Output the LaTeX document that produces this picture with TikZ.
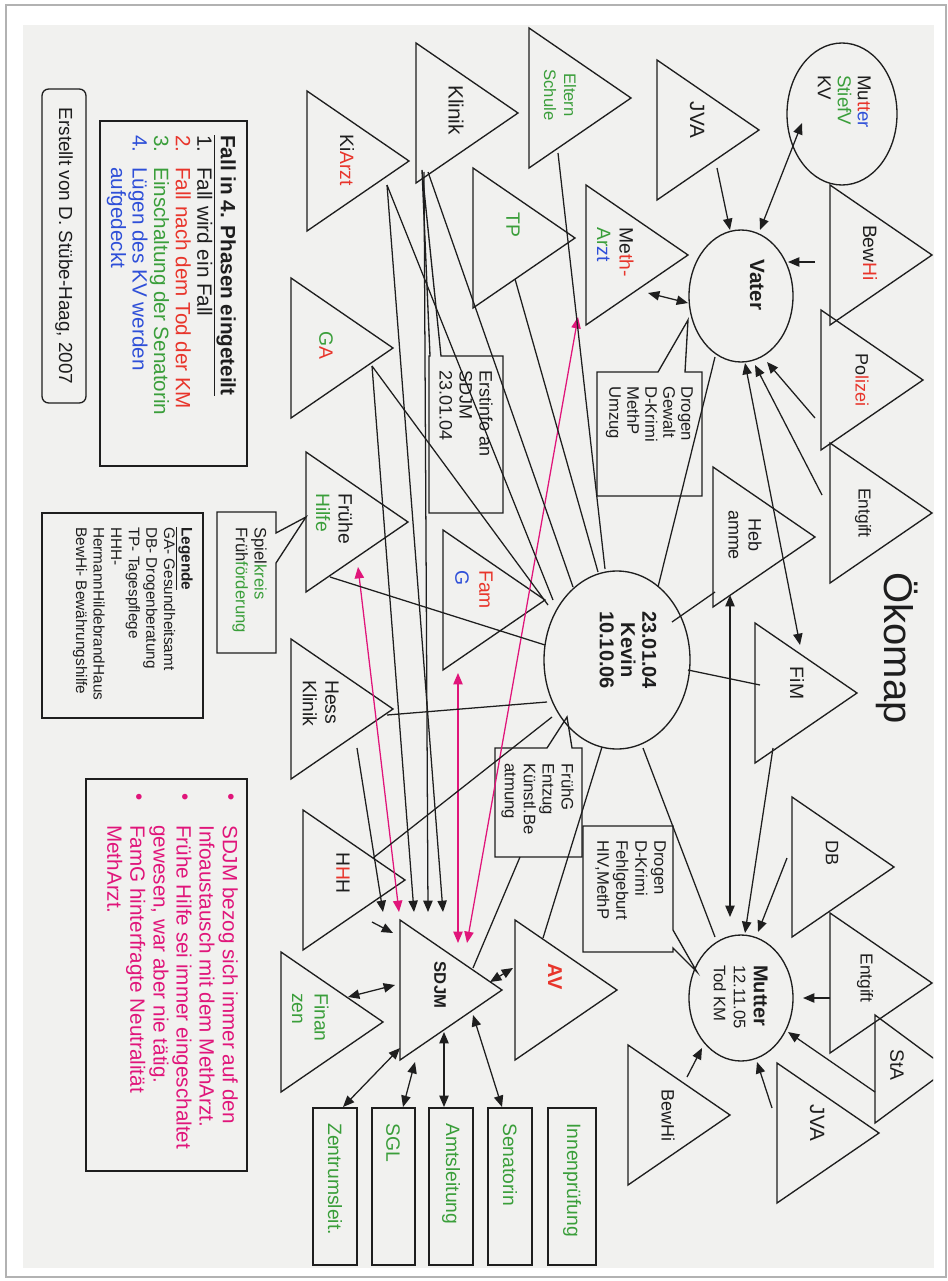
\documentclass[tikz,border=0pt]{standalone}
\usepackage{fontspec}
\setmainfont{Liberation Sans}
\usetikzlibrary{arrows.meta}
\definecolor{paper}{HTML}{F1F1EF}
\definecolor{ink}{HTML}{1E1E1E}
\definecolor{gr}{HTML}{3A9E3A}
\definecolor{rd}{HTML}{E8352B}
\definecolor{bl}{HTML}{2E4FD8}
\definecolor{pk}{HTML}{E0157A}
\newcommand\fs[2]{\fontsize{#1}{#2}\selectfont}
\newcommand\mytri[2]{\draw[trishape] (#1,#2-70) -- (#1+102,#2) -- (#1,#2+70) -- cycle;}
\begin{document}
\begin{tikzpicture}[x=0.75pt,y=-0.75pt,
  trishape/.style={draw=ink,line width=1pt,line join=miter},
  boxshape/.style={draw=ink,line width=1pt},
  conn/.style={draw=ink,line width=0.95pt},
  arr/.style={conn,-{Triangle[length=8.5pt,width=7pt]}},
  darr/.style={conn,{Triangle[length=8.5pt,width=7pt]}-{Triangle[length=8.5pt,width=7pt]}},
  parr/.style={draw=pk,line width=0.95pt,{Triangle[length=8.5pt,width=7pt]}-{Triangle[length=8.5pt,width=7pt]}},
  lab/.style={rotate=-90,inner sep=0pt,align=center,text=ink,font=\fs{14.5}{15}},
  labl/.style={rotate=-90,inner sep=0pt,align=left,text=ink,font=\fs{14.5}{15}}
]
\path[use as bounding box] (0,0) rectangle (948,1281);
\fill[white] (0,0) rectangle (948,1281);
\draw[black!30,line width=1.2pt] (6,5) rectangle (946,1277);
\fill[paper] (23,25) rectangle (934,1268);

% ---------- triangles ----------
\mytri{529}{98}
\mytri{416}{113}
\mytri{307}{161}
\mytri{473}{238}
\mytri{586}{255}
\mytri{657}{130}
\mytri{830}{255}
\mytri{821}{380}
\mytri{830}{513}
\mytri{713}{537}
\mytri{755}{693}
\mytri{792}{867}
\mytri{830}{983}
\begin{scope}
\clip (0,0) rectangle (933,1281);
\draw[trishape] (875,1015) -- (948,1069) -- (875,1123) -- cycle;
\end{scope}
\mytri{777}{1133}
\mytri{628}{1115}
\mytri{515}{990}
\mytri{400}{990}
\mytri{281}{1022}
\mytri{303}{880}
\mytri{291}{709}
\mytri{306}{522}
\mytri{443}{600}
\mytri{291}{348}

% ---------- circles ----------
\draw[boxshape] (842,114) ellipse [x radius=55, y radius=71];
\draw[boxshape] (741,296) ellipse [x radius=52, y radius=66];
\draw[boxshape] (617,660) ellipse [x radius=73, y radius=89];
\draw[boxshape] (741,998) ellipse [x radius=52, y radius=63];

% ---------- callouts and boxes ----------
\draw[boxshape] (597,372) -- (658,372) -- (688,320) -- (685,372) -- (702,372) -- (702,496) -- (597,496) -- cycle;
\draw[boxshape] (503,356) -- (441,356) -- (422,170) -- (430,356) -- (429,356) -- (429,513) -- (503,513) -- cycle;
\draw[boxshape] (217,512) -- (276,512) -- (276,533) -- (306,517) -- (276,563) -- (276,653) -- (217,653) -- cycle;
\draw[boxshape] (495,748) -- (547,748) -- (567,717) -- (572,748) -- (582,748) -- (582,857) -- (495,857) -- cycle;
\draw[boxshape] (583,826) -- (673,826) -- (673,930) -- (697,972) -- (673,948) -- (673,952) -- (583,952) -- cycle;
\draw[boxshape] (100,121) rectangle (247,466);
\draw[boxshape] (42,513) rectangle (203,718);
\draw[boxshape] (86,779) rectangle (247,1171);
\draw[boxshape,rounded corners=5pt] (42,89) rectangle (86,403);
\draw[boxshape] (313,1108) rectangle (357,1265);
\draw[boxshape] (372,1108) rectangle (415,1265);
\draw[boxshape] (429,1108) rectangle (473,1265);
\draw[boxshape] (488,1108) rectangle (532,1265);
\draw[boxshape] (548,1108) rectangle (596,1265);

% ---------- connector end points ----------
\coordinate (jvaA) at (717,168);   \coordinate (vatA) at (730,230);
\coordinate (bewA) at (815,262);   \coordinate (vatB) at (788,262);
\coordinate (polA) at (815,418);   \coordinate (vatC) at (767,362);
\coordinate (entA) at (822,495);   \coordinate (vatD) at (755,365);
\coordinate (fimB) at (773,748);   \coordinate (mutA) at (745,933);
\coordinate (dbA)  at (787,858);   \coordinate (mutB) at (758,932);
\coordinate (entB) at (830,998);   \coordinate (mutC) at (803,998);
\coordinate (staA) at (875,1092);  \coordinate (mutD) at (788,1032);
\coordinate (jvaB) at (772,1108);  \coordinate (mutE) at (757,1062);
\coordinate (bewB) at (687,1077);  \coordinate (mutF) at (702,1048);
\coordinate (hessA) at (357,748);  \coordinate (sdA) at (383,912);
\coordinate (gaA) at (372,366);    \coordinate (sdB) at (414,912);
\coordinate (kliA) at (424,172);   \coordinate (sdC) at (428,912);
\coordinate (kiA) at (387,185);    \coordinate (sdD) at (443,912);
\coordinate (hhhA) at (372,922);   \coordinate (sdE) at (393,933);
\coordinate (mkvA) at (802,123);   \coordinate (vatE) at (760,230);
\coordinate (methA) at (648,293);  \coordinate (vatF) at (688,303);
\coordinate (fimA) at (800,645);   \coordinate (vatG) at (745,363);
\coordinate (hebA) at (730,595);   \coordinate (mutG) at (730,917);
\coordinate (avA) at (513,968);    \coordinate (sdF) at (490,982);
\coordinate (finA) at (348,997);   \coordinate (sdG) at (395,985);
\coordinate (sdH) at (400,1048);   \coordinate (zenA) at (343,1107);
\coordinate (sdI) at (415,1062);   \coordinate (sglA) at (403,1107);
\coordinate (sdJ) at (444,1032);   \coordinate (amtA) at (444,1107);
\coordinate (sdK) at (473,1015);   \coordinate (senA) at (502,1107);
\coordinate (fhA) at (358,567);    \coordinate (sdL) at (399,912);
\coordinate (fgA) at (458,673);    \coordinate (sdM) at (458,943);
\coordinate (maA) at (578,317);    \coordinate (sdN) at (467,943);
\coordinate (kevA) at (658,587);   \coordinate (vatH) at (715,357);
\coordinate (kevB) at (672,622);   \coordinate (hebB) at (715,592);
\coordinate (kevC) at (688,670);   \coordinate (fimC) at (760,685);
\coordinate (kevD) at (643,748);   \coordinate (mutH) at (715,937);
\coordinate (kevE) at (602,747);   \coordinate (avB) at (543,938);
\coordinate (fgbA) at (520,857);   \coordinate (sdO) at (473,968);
\coordinate (kevF) at (552,717);   \coordinate (hhhB) at (373,858);
\coordinate (kevG) at (547,702);   \coordinate (hessB) at (387,715);
\coordinate (kevH) at (545,645);   \coordinate (fhB) at (330,577);
\coordinate (kevI) at (548,605);   \coordinate (gaB) at (372,366);
\coordinate (kevJ) at (553,600);   \coordinate (kiB) at (387,185);
\coordinate (kevK) at (573,587);   \coordinate (kliB) at (428,172);
\coordinate (kevL) at (598,572);   \coordinate (tpA) at (515,279);
\coordinate (kevM) at (605,569);   \coordinate (elA) at (558,153);

% ---------- connectors ----------
\draw[arr] (jvaA) -- (vatA);
\draw[arr] (bewA) -- (vatB);
\draw[arr] (polA) -- (vatC);
\draw[arr] (entA) -- (vatD);
\draw[arr] (fimB) -- (mutA);
\draw[arr] (dbA) -- (mutB);
\draw[arr] (entB) -- (mutC);
\draw[arr] (staA) -- (mutD);
\draw[arr] (jvaB) -- (mutE);
\draw[arr] (bewB) -- (mutF);
\draw[arr] (hessA) -- (sdA);
\draw[arr] (gaA) -- (sdB);
\draw[arr] (kliA) -- (sdC);
\draw[arr] (kiA) -- (sdD);
\draw[arr] (hhhA) -- (sdE);
\draw[darr] (mkvA) -- (vatE);
\draw[darr] (methA) -- (vatF);
\draw[darr] (fimA) -- (vatG);
\draw[darr] (hebA) -- (mutG);
\draw[darr] (avA) -- (sdF);
\draw[darr] (finA) -- (sdG);
\draw[darr] (sdH) -- (zenA);
\draw[darr] (sdI) -- (sglA);
\draw[darr] (sdJ) -- (amtA);
\draw[darr] (sdK) -- (senA);
\draw[parr] (fhA) -- (sdL);
\draw[parr] (fgA) -- (sdM);
\draw[parr] (maA) -- (sdN);
\draw[conn] (kevA) -- (vatH);
\draw[conn] (kevB) -- (hebB);
\draw[conn] (kevC) -- (fimC);
\draw[conn] (kevD) -- (mutH);
\draw[conn] (kevE) -- (avB);
\draw[conn] (fgbA) -- (sdO);
\draw[conn] (kevF) -- (hhhB);
\draw[conn] (kevG) -- (hessB);
\draw[conn] (kevH) -- (fhB);
\draw[conn] (kevI) -- (gaB);
\draw[conn] (kevJ) -- (kiB);
\draw[conn] (kevK) -- (kliB);
\draw[conn] (kevL) -- (tpA);
\draw[conn] (kevM) -- (elA);

% ---------- labels ----------
\node[lab,font=\fs{30}{30}] (title) at (897,648) {Ökomap};
\node[lab,font=\fs{12.5}{15},text=gr] (eltern) at (560,95) {Eltern\\Schule};
\node[lab,font=\fs{15.5}{15}] (klinik) at (456,110) {Klinik};
\node[lab] (kiarzt) at (347,160) {Ki\textcolor{rd}{Arzt}};
\node[lab,text=gr] (tp) at (513,225) {TP};
\node[labl,anchor=north west,font=\fs{14.5}{17}] (metharzt) at (634,227) {Me\textcolor{rd}{th-}\\\textcolor{gr}{Ar}\textcolor{bl}{zt}};
\node[lab,font=\fs{15.5}{15}] (jva) at (697,120) {JVA};
\node[lab] (bewhi) at (870,253) {Bew\textcolor{rd}{Hi}};
\node[lab,font=\fs{13.5}{15}] (polizei) at (862,380) {Po\textcolor{rd}{lizei}};
\node[lab,font=\fs{13}{15}] (entgift) at (863,513) {Entgift};
\node[lab,font=\fs{13.5}{15}] (hebamme) at (745,535) {Heb\\amme};
\node[lab] (fim) at (797,683) {FiM};
\node[lab,font=\fs{13.5}{15}] (db) at (832,853) {DB};
\node[lab,font=\fs{13}{15}] (entgift2) at (865,978) {Entgift};
\node[lab] (sta) at (897,1065) {StA};
\node[lab,font=\fs{15.5}{15}] (jva2) at (817,1123) {JVA};
\node[lab,font=\fs{13.5}{15}] (bewhi2) at (668,1115) {BewHi};
\node[lab,font=\bfseries\fs{15}{15},text=rd] (av) at (555,977) {AV};
\node[lab,font=\bfseries\fs{12.5}{15}] (sdjm) at (440,985) {SDJM};
\node[labl,anchor=north west,text=gr,font=\fs{14.5}{17}] (finanzen) at (329,993) {Finan\\zen};
\node[lab] (hhh) at (343,873) {H\textcolor{rd}{H}H};
\node[labl,anchor=north west,font=\fs{14.5}{17}] (hess) at (339,680) {Hess\\Klinik};
\node[labl,anchor=north west,font=\fs{14.5}{17}] (fruehe) at (353,493) {Frühe\\\textcolor{gr}{Hilfe}};
\node[labl,anchor=north west,font=\fs{14.5}{18}] (famg) at (493,570) {\textcolor{rd}{Fam}\\\textcolor{bl}{G}};
\node[lab] (ga) at (326,345) {\textcolor{gr}{G}\textcolor{rd}{A}};

\node[labl,anchor=north west,font=\fs{14}{15}] (mkv) at (871,75) {Mu\textcolor{rd}{tt}\textcolor{bl}{er}\\\textcolor{gr}{StiefV}\\KV};
\node[lab,font=\bfseries\fs{15.5}{15}] (vater) at (757,285) {Vater};
\node[lab,font=\bfseries\fs{15}{16}] (kevin) at (628,650) {23.01.04\\Kevin\\10.10.06};
\node[labl,anchor=north west,font=\fs{12.5}{15}] (mutter) at (768,965) {\fs{15}{15}\bfseries Mutter\\12.11.05\\Tod KM};

\node[labl,anchor=north west,font=\fs{12.5}{13.5}] (cbA) at (693,386) {Drogen\\Gewalt\\D-Krimi\\MethP\\Umzug};
\node[labl,anchor=north west,font=\fs{13.5}{15}] (cbB) at (493,370) {Erstinfo an\\SDJM\\23.01.04};
\node[labl,anchor=north west,font=\fs{12.5}{14}] (cbC) at (267,527) {Spiel\textcolor{gr}{kreis}\\Früh\textcolor{gr}{förderung}};
\node[labl,anchor=north west,font=\fs{12.5}{14.2}] (cbD) at (574,763) {FrühG\\Entzug\\Künstl.Be\\atmung};
\node[labl,anchor=north west,font=\fs{12.5}{14.2}] (cbE) at (666,840) {Drogen\\D-Krimi\\Fehlgeburt\\HIV,MethP};

\node[labl,anchor=north west,font=\fs{15.5}{16.2}] (phasen) at (236,135) {\textbf{\underline{Fall in 4. Phasen eingeteilt}}\\
\makebox[24pt][l]{1.}Fall wird ein Fall\\
\textcolor{rd}{\makebox[24pt][l]{2.}Fall nach dem Tod der KM}\\
\textcolor{gr}{\makebox[24pt][l]{3.}Einschaltung der Senatorin}\\
\textcolor{bl}{\makebox[24pt][l]{4.}Lügen des KV werden}\\
\textcolor{bl}{\hspace*{24pt}aufgedeckt}};
\node[labl,anchor=north west,font=\fs{11.5}{13.2}] (legende) at (193,527) {\textbf{\underline{Legende}}\\
GA- Gesundheitsamt\\DB- Drogenberatung\\TP- Tagespflege\\HHH-\\HermannHildebrandHaus\\BewHi- Bewährungshilfe};
\node[labl,anchor=north west,font=\fs{15.5}{17.3},text=pk] (notes) at (238,825) {SDJM bezog sich immer auf den\\
Infoaustausch mit dem MethArzt.\\
Frühe Hilfe sei immer eingeschaltet\\
gewesen, war aber nie tätig.\\
FamG hinterfragte Neutralität\\
MethArzt.};
\node[lab,text=pk,font=\fs{15.5}{15}] (bulA) at (229,797) {•};
\node[lab,text=pk,font=\fs{15.5}{15}] (bulB) at (183,797) {•};
\node[lab,text=pk,font=\fs{15.5}{15}] (bulC) at (137,797) {•};
\node[lab,font=\fs{14.2}{15}] (erstellt) at (64,246) {Erstellt von D. Stübe-Haag, 2007};

\node[lab,anchor=west,text=gr] (zentrum) at (335,1123) {Zentrumsleit.};
\node[lab,anchor=west,text=gr] (sgl) at (393,1123) {SGL};
\node[lab,anchor=west,text=gr] (amt) at (451,1123) {Amtsleitung};
\node[lab,anchor=west,text=gr] (senat) at (510,1123) {Senatorin};
\node[lab,anchor=west,text=gr] (innen) at (572,1123) {Innenprüfung};
\end{tikzpicture}
\end{document}
